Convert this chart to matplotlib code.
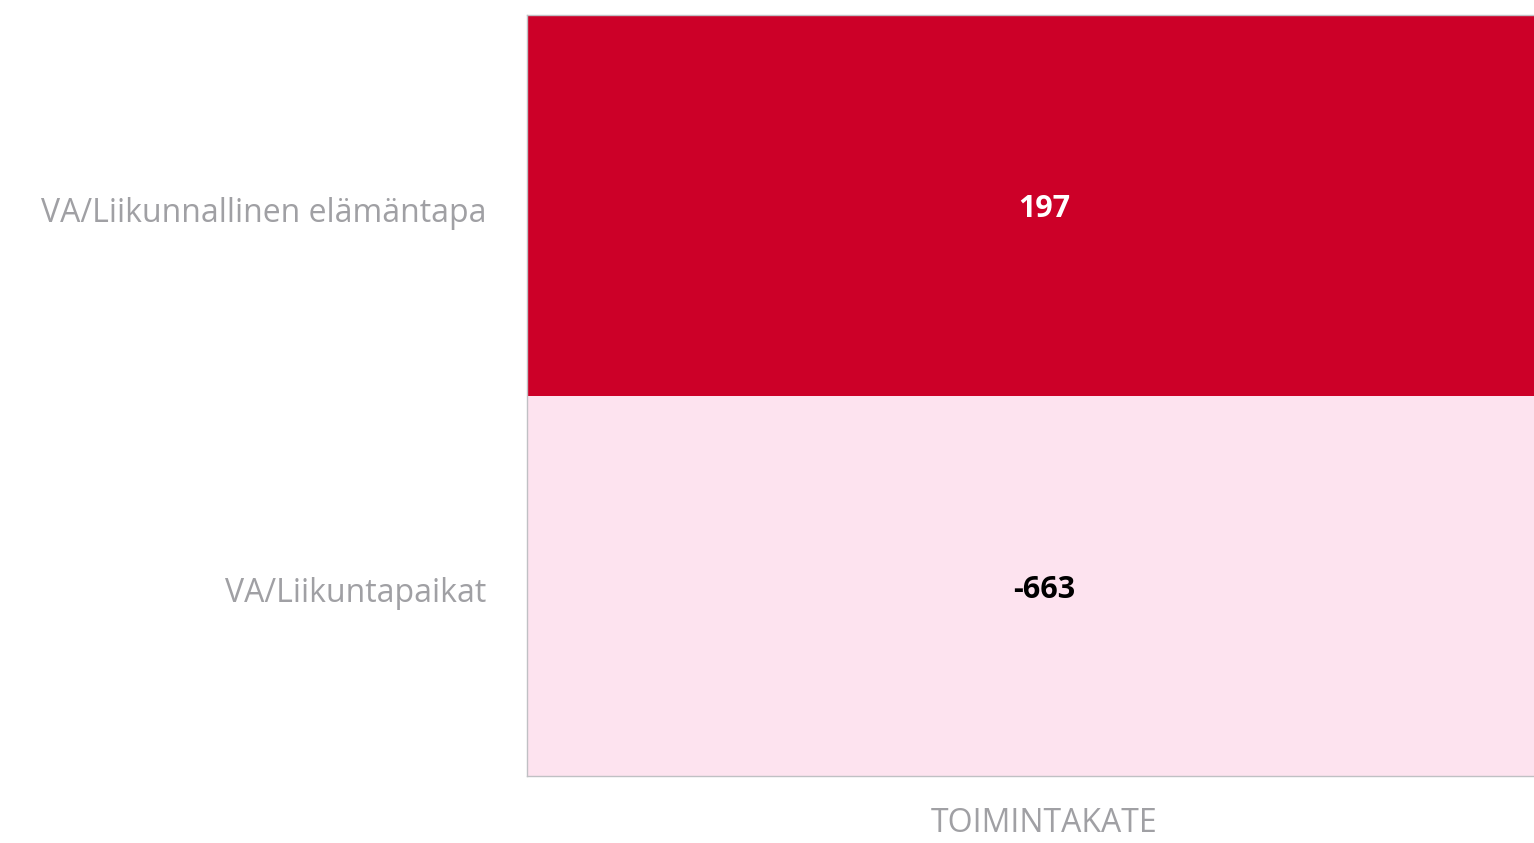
import numpy as np
from matplotlib import pyplot as plt
from matplotlib.colors import LinearSegmentedColormap

rows = ['VA/Liikunnallinen elämäntapa', 'VA/Liikuntapaikat']
cols = ['TOIMINTAKATE']
values = [[197], [-663]]

plt.rcParams['font.family'] = ['Open Sans', 'DejaVu Sans']

data = np.array(values, dtype=float)
cmap = LinearSegmentedColormap.from_list('pr', ['#fde3ef', '#cc0028'])

fig = plt.figure(figsize=(15.34, 8.43), dpi=100)
# heatmap runs slightly past the right edge of the picture
ax = fig.add_axes([527 / 1534, 67 / 843, (1562 - 527) / 1534, (776 - 15) / 843])
ax.pcolormesh(data, cmap=cmap, vmin=data.min(), vmax=data.max())
ax.set_xlim(0, 1)
ax.set_ylim(2, 0)

for i in range(data.shape[0]):
    for j in range(data.shape[1]):
        v = data[i, j]
        color = 'white' if v == data.max() else 'black'
        ax.text(j + 0.5, i + 0.51, f'{int(v)}', ha='center', va='center',
                fontsize=22, fontweight='bold', color=color)

ax.set_yticks(np.arange(len(rows)) + 0.51)
ax.set_yticklabels(rows, fontsize=23, color='#a0a0a4')
ax.set_xticks(np.arange(len(cols)) + 0.5)
ax.set_xticklabels(cols, fontsize=23, color='#a0a0a4')
ax.tick_params(axis='y', length=0, pad=29)
ax.tick_params(axis='x', length=0, pad=22)

for side in ['top', 'left', 'bottom']:
    ax.spines[side].set_color('#c0c0c4')
    ax.spines[side].set_linewidth(1)
ax.spines['right'].set_visible(False)

fig.savefig('out.png', dpi=100)
